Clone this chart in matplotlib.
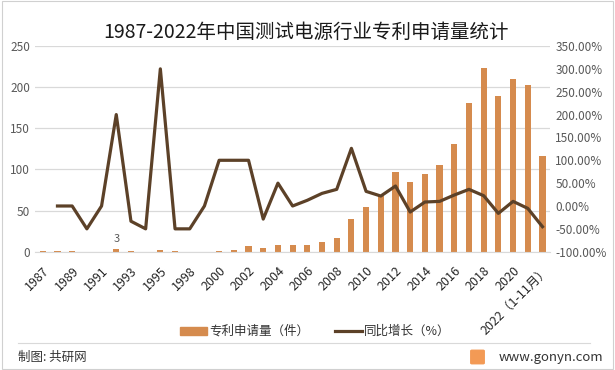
import matplotlib.pyplot as plt
from matplotlib.patches import Rectangle, FancyBboxPatch
import numpy as np

plt.rcParams['font.family'] = ['Noto Sans CJK SC', 'DejaVu Sans']

# 数据
years = ['1987', '1988', '1989', '1990', '1991', '1992', '1993', '1994', '1995',
         '1996', '1998', '1999', '2000', '2001', '2002', '2003', '2004', '2005',
         '2006', '2007', '2008', '2009', '2010', '2011', '2012', '2013', '2014',
         '2015', '2016', '2017', '2018', '2019', '2020', '2021', '2022（1-11月）']
patents = [1, 1, 1, 0, 0, 3, 1, 0, 2,
           1, 0, 0, 1, 2, 7, 5, 8, 8,
           8, 12, 17, 40, 54, 68, 97, 85, 94,
           105, 131, 181, 223, 189, 210, 203, 116]
growth = [None, 0, 0, -50, 0, 200, -33.3, -50, 300,
          -50, -50, 0, 100, 100, 100, -28.6, 50, 0,
          12.5, 27.6, 36.4, 126.1, 32.0, 21.8, 43.7, -13.2, 8.7,
          10.1, 24.0, 36.4, 22.5, -16.1, 10.1, -5.2, -45.3]
left_ticks = [0, 50, 100, 150, 200, 250]
right_ticks = [-100, -50, 0, 50, 100, 150, 200, 250, 300, 350]

bar_color = '#D58B4E'
line_color = '#5C4128'
text_color = '#595959'

fig = plt.figure(figsize=(6.15, 3.70), dpi=100)
ax = fig.add_axes([0.0576, 0.3197, 0.8364, 0.556])
ax2 = ax.twinx()

x = np.arange(len(years))
ax.bar(x, patents, width=0.42, color=bar_color, zorder=2)
ax.text(x[5], patents[5] + 6, '3', ha='center', va='bottom', fontsize=8, color=text_color)

g = np.array([np.nan if v is None else v for v in growth], dtype=float)
ax2.plot(x, g, color=line_color, linewidth=2.3, zorder=3)

ax.set_xlim(-0.5, len(years) - 0.5)
ax.set_ylim(0, 250)
ax.set_yticks(left_ticks)
ax.set_yticklabels([str(t) for t in left_ticks])
ax2.set_ylim(-100, 350)
ax2.set_yticks(right_ticks)
ax2.set_yticklabels([f'{t:.2f}%' for t in right_ticks])

ax.grid(axis='y', color='#D9D9D9', linewidth=0.9, zorder=0)
ax.set_axisbelow(True)
for a in (ax, ax2):
    for s in a.spines.values():
        s.set_visible(False)
ax.spines['bottom'].set_visible(True)
ax.spines['bottom'].set_color('#D9D9D9')

ax.set_xticks(x[::2])
ax.set_xticklabels(years[::2], rotation=45, ha='right', va='top',
                   rotation_mode='anchor', fontsize=9, color='#262626')
ax.tick_params(axis='x', length=0, pad=9)
ax.tick_params(axis='y', length=0, labelsize=8.5, labelcolor=text_color, pad=4)
ax2.tick_params(axis='y', length=0, labelsize=8.5, labelcolor=text_color, pad=4)

fig.text(0.497, 0.912, '1987-2022年中国测试电源行业专利申请量统计',
         ha='center', va='center', fontsize=14, color='#1a1a1a')

# 图例
ly = 1 - 331 / 370
fig.patches.append(Rectangle((180 / 615, ly - 0.012), 27 / 615, 0.024,
                             transform=fig.transFigure, color=bar_color))
fig.text(209 / 615, ly, '专利申请量（件）', ha='left', va='center', fontsize=9, color='#333333')
fig.lines.append(plt.Line2D([335 / 615, 362 / 615], [ly, ly], transform=fig.transFigure,
                            color=line_color, linewidth=2.3))
fig.text(364 / 615, ly, '同比增长（%）', ha='left', va='center', fontsize=9, color='#333333')

# 底部
fig.lines.append(plt.Line2D([18 / 615, 590 / 615], [1 - 343 / 370, 1 - 343 / 370],
                            transform=fig.transFigure, color='#D9D9D9', linewidth=0.8))
fig.text(18 / 615, 1 - 357 / 370, '制图: 共研网', ha='left', va='center', fontsize=9, color='#333333')
fig.patches.append(FancyBboxPatch((472 / 615, 1 - 363 / 370), 11 / 615, 12 / 370,
                                  boxstyle='round,pad=0.002', transform=fig.transFigure,
                                  color='#F39A55'))
fig.text(603 / 615, 1 - 357 / 370, 'www.gonyn.com', ha='right', va='center',
         fontsize=9.5, color='#333333')

# 外框
fig.patches.append(Rectangle((0.004, 0.004), 0.992, 0.992, transform=fig.transFigure,
                             fill=False, edgecolor='#D0D0D0', linewidth=0.8))

fig.savefig('out.png', dpi=100)
